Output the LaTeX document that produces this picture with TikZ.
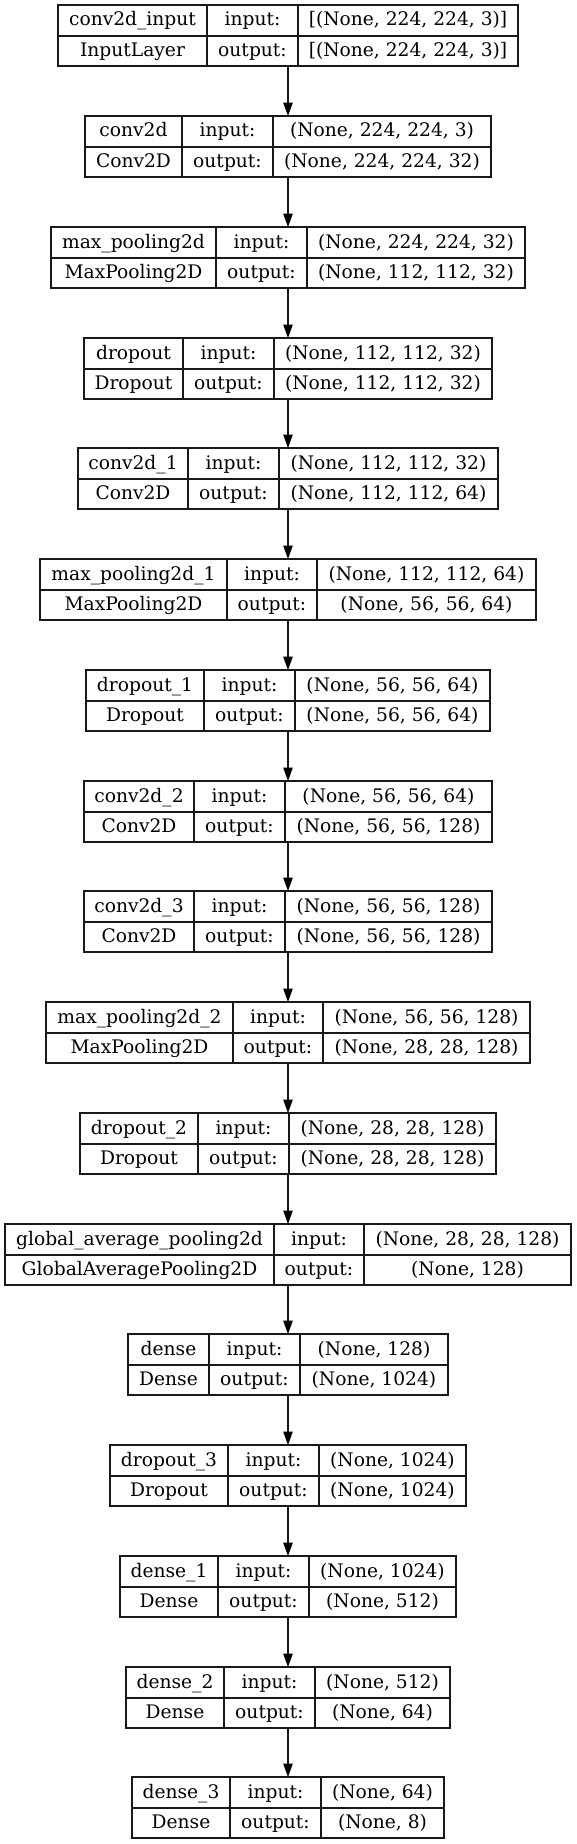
\documentclass[tikz,border=0pt]{standalone}
\usepackage{fontspec}
\setmainfont{DejaVu Serif}
\usetikzlibrary{arrows.meta}
\tikzset{
  layerbox/.style={draw=black!90, line width=1pt, inner sep=0pt, outer sep=0pt, minimum height=45.75pt},
  cellline/.style={draw=black!90, line width=1pt},
  celltext/.style={inner sep=0pt, anchor=base, font=\fontsize{14pt}{16pt}\selectfont, text=black},
  flow/.style={draw=black!90, line width=1pt, -{Triangle[length=10pt,width=7pt,fill=black,color=black]}}
}
\newcommand\layerrow[9]{%
  \pgfmathsetmacro\LT{round(5.33+110.75*#2)}%
  \pgfmathsetmacro\LH{round(#3/2)}%
  \pgfmathsetmacro\LL{288-\LH}%
  \pgfmathsetmacro\LR{288+\LH}%
  \pgfmathsetmacro\LA{round(\LL+#4)}%
  \pgfmathsetmacro\LB{round(\LL+#5)}%
  \node[layerbox, minimum width=2*\LH*0.75pt] (#1) at (288,\LT+30.5) {};
  \draw[cellline] (\LL,\LT+31) -- (\LR,\LT+31);
  \draw[cellline] (\LA,\LT) -- (\LA,\LT+61);
  \draw[cellline] (\LB,\LT) -- (\LB,\LT+61);
  \node[celltext] (#1-name) at ({(\LL+\LA)/2},\LT+21) {#6};
  \node[celltext] (#1-class) at ({(\LL+\LA)/2},\LT+51.5) {#7};
  \node[celltext] (#1-inl) at ({(\LA+\LB)/2},\LT+21) {input:};
  \node[celltext] (#1-outl) at ({(\LA+\LB)/2},\LT+51.5) {output:};
  \node[celltext] (#1-in) at ({(\LB+\LR)/2},\LT+21) {#8};
  \node[celltext] (#1-out) at ({(\LB+\LR)/2},\LT+51.5) {#9};
}
\begin{document}
\begin{tikzpicture}[x=0.75pt,y=-0.75pt]
\useasboundingbox (0,0) rectangle (576,1844);
\fill[white] (0,0) rectangle (576,1844);
\layerrow{b0}{0}{459.6}{149.3}{240.2}{conv2d\_input}{InputLayer}{[(None, 224, 224, 3)]}{[(None, 224, 224, 3)]}
\layerrow{b1}{1}{405.8}{96.9}{187.6}{conv2d}{Conv2D}{(None, 224, 224, 3)}{(None, 224, 224, 32)}
\layerrow{b2}{2}{474.3}{165}{255.8}{max\_pooling2d}{MaxPooling2D}{(None, 224, 224, 32)}{(None, 112, 112, 32)}
\layerrow{b3}{3}{408.3}{99.4}{190.2}{dropout}{Dropout}{(None, 112, 112, 32)}{(None, 112, 112, 32)}
\layerrow{b4}{4}{419.3}{110.4}{201.1}{conv2d\_1}{Conv2D}{(None, 112, 112, 32)}{(None, 112, 112, 64)}
\layerrow{b5}{5}{495.3}{186.7}{277.2}{max\_pooling2d\_1}{MaxPooling2D}{(None, 112, 112, 64)}{(None, 56, 56, 64)}
\layerrow{b6}{6}{403.2}{118.2}{208.9}{dropout\_1}{Dropout}{(None, 56, 56, 64)}{(None, 56, 56, 64)}
\layerrow{b7}{7}{407.2}{110.4}{201.1}{conv2d\_2}{Conv2D}{(None, 56, 56, 64)}{(None, 56, 56, 128)}
\layerrow{b8}{8}{407.2}{110.4}{201.1}{conv2d\_3}{Conv2D}{(None, 56, 56, 128)}{(None, 56, 56, 128)}
\layerrow{b9}{9}{483.5}{186.7}{277.3}{max\_pooling2d\_2}{MaxPooling2D}{(None, 56, 56, 128)}{(None, 28, 28, 128)}
\layerrow{b10}{10}{415.2}{118.4}{209.1}{dropout\_2}{Dropout}{(None, 28, 28, 128)}{(None, 28, 28, 128)}
\layerrow{b11}{11}{565.3}{268.7}{359.3}{global\_average\_pooling2d}{GlobalAveragePooling2D}{(None, 28, 28, 128)}{(None, 128)}
\layerrow{b12}{12}{319}{81.4}{172.1}{dense}{Dense}{(None, 128)}{(None, 1024)}
\layerrow{b13}{13}{355.4}{118.4}{209.1}{dropout\_3}{Dropout}{(None, 1024)}{(None, 1024)}
\layerrow{b14}{14}{335.5}{98.4}{189.1}{dense\_1}{Dense}{(None, 1024)}{(None, 512)}
\layerrow{b15}{15}{323.3}{98.4}{189.1}{dense\_2}{Dense}{(None, 512)}{(None, 64)}
\layerrow{b16}{16}{311.4}{98.4}{189.1}{dense\_3}{Dense}{(None, 64)}{(None, 8)}
\draw[flow] (b0.south) -- (b1.north);
\draw[flow] (b1.south) -- (b2.north);
\draw[flow] (b2.south) -- (b3.north);
\draw[flow] (b3.south) -- (b4.north);
\draw[flow] (b4.south) -- (b5.north);
\draw[flow] (b5.south) -- (b6.north);
\draw[flow] (b6.south) -- (b7.north);
\draw[flow] (b7.south) -- (b8.north);
\draw[flow] (b8.south) -- (b9.north);
\draw[flow] (b9.south) -- (b10.north);
\draw[flow] (b10.south) -- (b11.north);
\draw[flow] (b11.south) -- (b12.north);
\draw[flow] (b12.south) -- (b13.north);
\draw[flow] (b13.south) -- (b14.north);
\draw[flow] (b14.south) -- (b15.north);
\draw[flow] (b15.south) -- (b16.north);
\end{tikzpicture}
\end{document}
